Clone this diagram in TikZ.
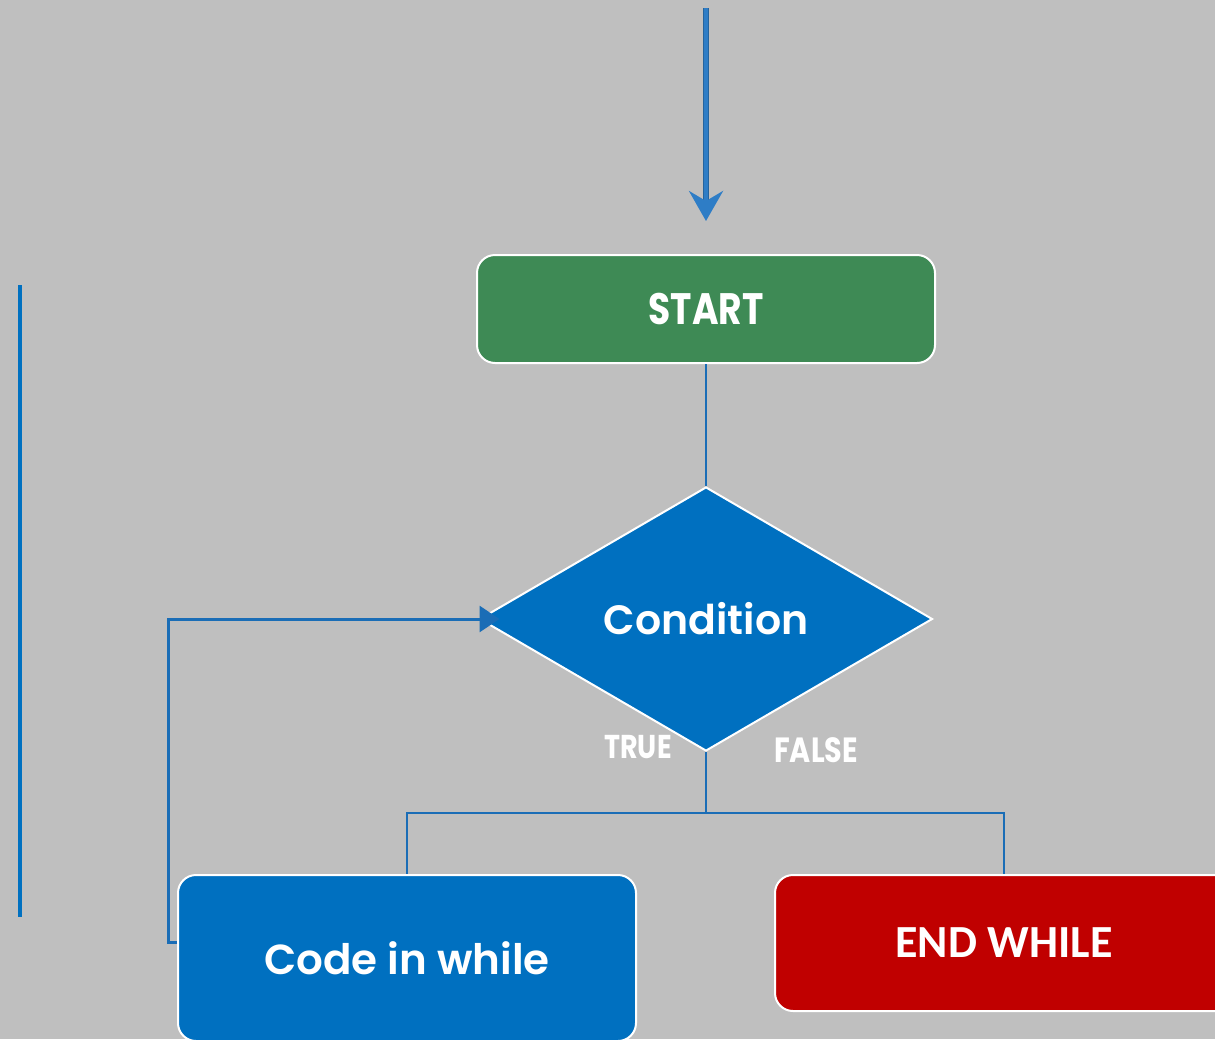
\documentclass[tikz,border=0pt]{standalone}
\usepackage{fontspec}
\usetikzlibrary{shapes.geometric,arrows.meta}
\newfontfamily\popb[FakeStretch=0.82]{Poppins}[UprightFont=* Bold]
\newfontfamily\pops{Poppins}[UprightFont=* SemiBold]
\newfontfamily\carb{Carlito}[UprightFont=* Bold]
\definecolor{bg}{HTML}{BFBFBF}
\definecolor{mygreen}{HTML}{3E8A55}
\definecolor{myblue}{HTML}{0070C0}
\definecolor{myred}{HTML}{C00000}
\definecolor{linkblue}{HTML}{1A6DB6}
\definecolor{arrowblue}{HTML}{2E7DC6}
\tikzset{
  boxstyle/.style={draw=white, line width=2pt, rounded corners=18pt, minimum width=458pt, inner sep=0pt, text=white},
  conn/.style={draw=linkblue, line width=2.8pt},
}
\begin{document}
\begin{tikzpicture}[x=1pt,y=-1pt]
\fill[bg] (0,0) rectangle (1215,1039);
\useasboundingbox (0,0) rectangle (1215,1039);
\clip (0,0) rectangle (1215,1039);

% left standalone line
\draw[myblue, line width=4pt] (20,285) -- (20,917);

\node[boxstyle, fill=mygreen, minimum height=108pt] (start) at (706,309) {\fontsize{44}{50}\popb START};
\node[diamond, draw=white, line width=2pt, fill=myblue, text=white, aspect=1.716, minimum width=453pt, minimum height=264pt, inner sep=0pt] (cond) at (706,619) {\fontsize{41}{48}\pops Condition};
\node[boxstyle, fill=myblue, minimum height=166pt] (code) at (407,958) {\fontsize{42}{48}\pops Code in while};
\node[boxstyle, fill=myred, minimum height=136pt] (endw) at (1004,943) {\fontsize{46}{52}\carb END WHILE};

\node[text=white] (truel) at (638,747) {\fontsize{33}{38}\popb TRUE};
\node[text=white] (falsel) at (816,750) {\fontsize{35}{40}\popb FALSE};

% top arrow
\coordinate (topstart) at (706,8);
\draw[arrowblue!80!black, line width=6pt] (topstart) -- ([yshift=50]start.north);
\draw[arrowblue, line width=4pt, -{Stealth[length=30pt,width=34pt,inset=10pt]}] (topstart) -- ([yshift=33]start.north);

% connectors
\draw[conn] (start.south) -- (cond.north);
\coordinate (bus) at (706,813);
\draw[conn] (cond.south) -- (bus);
\draw[conn] (bus) -| (code.north);
\draw[conn] (bus) -| (endw.north);

% loop back
\draw[conn, line width=3pt, -{Triangle[length=20pt,width=26pt]}] ([yshift=16]code.west) -- ++(-9,0) |- ([xshift=21]cond.west);
\end{tikzpicture}
\end{document}
